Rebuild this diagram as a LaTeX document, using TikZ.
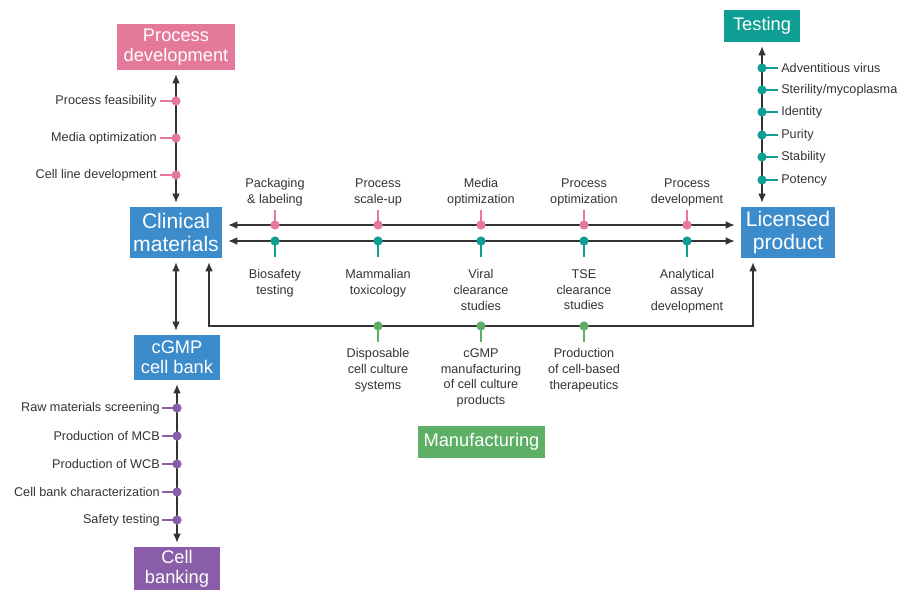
\documentclass[tikz,border=0pt]{standalone}
\usepackage{fontspec}
\setmainfont{Liberation Sans}
\usetikzlibrary{arrows.meta, positioning, calc}

\definecolor{pinkc}{HTML}{E5799A}
\definecolor{bluec}{HTML}{3C8BCB}
\definecolor{tealc}{HTML}{0F9E93}
\definecolor{purplec}{HTML}{8A5DA8}
\definecolor{greenc}{HTML}{5CAF65}
\definecolor{arrgray}{HTML}{333333}
\definecolor{txtgray}{HTML}{333333}

\tikzset{
  box/.style={text=white, align=center, inner sep=0pt, font=\fontsize{13}{14}\selectfont},
  bigbox/.style={text=white, align=center, inner sep=0pt, font=\fontsize{15}{16}\selectfont},
  lbl/.style={text=txtgray, align=center, inner sep=0pt, font=\fontsize{9}{11.3}\selectfont},
  arr/.style={draw=arrgray, line width=0.9pt, shorten <=0.1cm, shorten >=0.1cm},
  stub/.style={line width=2pt},
}

\begin{document}
\begin{tikzpicture}[x=0.025cm, y=-0.025cm, >={Latex[length=6.5pt,width=5.5pt]}]
\useasboundingbox (0,0) rectangle (916,591);

% Stage boxes
\node[box, fill=pinkc, minimum width=2.925cm, minimum height=1.15cm] (procdev) at (176,47) {Process\\development};
\node[bigbox, fill=bluec, minimum width=2.3cm, minimum height=1.275cm] (clinical) at (176,232.5) {Clinical\\materials};
\node[bigbox, fill=bluec, minimum width=2.35cm, minimum height=1.275cm] (licensed) at (788,232.5) {Licensed\\product};
\node[box, fill=bluec, minimum width=2.125cm, minimum height=1.125cm] (cellbank) at (177,357.5) {cGMP\\cell bank};
\node[box, fill=purplec, minimum width=2.125cm, minimum height=1.075cm] (banking) at (177,568.5) {Cell\\banking};
\node[box, fill=tealc, minimum width=1.9cm, minimum height=0.8cm] (testing) at (762,26) {Testing};
\node[box, fill=greenc, minimum width=3.175cm, minimum height=0.8cm] (manuf) at (481.5,442) {Manufacturing};

% Main arrows
\draw[arr, <->] (procdev.south) -- (clinical.north);
\draw[arr, <->] (clinical.south) -- (clinical.south |- cellbank.north);
\draw[arr, <->] (cellbank.south) -- (cellbank.south |- banking.north);
\draw[arr, <->] (testing.south) -- (testing.south |- licensed.north);
\draw[arr, <->, shorten <=0.15cm, shorten >=0.15cm] ([yshift=0.1875cm]clinical.east) -- ([yshift=0.1875cm]licensed.west);
\draw[arr, <->, shorten <=0.15cm, shorten >=0.15cm] ([yshift=-0.2125cm]clinical.east) -- ([yshift=-0.2125cm]licensed.west);

% Feedback loop
\coordinate (fbl) at (209,326);
\coordinate (fbr) at (753,326);
\draw[arr, <->] (clinical.south -| fbl) -- (fbl) -- (fbr) -- (licensed.south -| fbr);

% Process development steps
\foreach \y/\txt [count=\i] in {101/Process feasibility, 138/Media optimization, 175/Cell line development} {
  \draw[stub, pinkc] (176,\y) -- (160,\y);
  \fill[pinkc] (176,\y) circle (0.115cm);
  \node[lbl, anchor=east] (pd\i) at (157,\y) {\txt};
}

% Testing steps
\foreach \y/\txt [count=\i] in {68/Adventitious virus, 90/{Sterility/mycoplasma}, 112/Identity, 135/Purity, 157/Stability, 180/Potency} {
  \draw[stub, tealc] (762,\y) -- (778,\y);
  \fill[tealc] (762,\y) circle (0.115cm);
  \node[lbl, anchor=west] (ts\i) at (781,\y) {\txt};
}

% Cell banking steps
\foreach \y/\txt [count=\i] in {408/Raw materials screening, 436/Production of MCB, 464/Production of WCB, 492/Cell bank characterization, 520/Safety testing} {
  \draw[stub, purplec] (177,\y) -- (162,\y);
  \fill[purplec] (177,\y) circle (0.115cm);
  \node[lbl, anchor=east] (cb\i) at (160,\y) {\txt};
}

% Upper row (process development)
\foreach \x/\txt [count=\i] in {275/{Packaging\\\& labeling}, 378/{Process\\scale-up}, 481/{Media\\optimization}, 584/{Process\\optimization}, 687/{Process\\development}} {
  \draw[stub, pinkc] (\x,225) -- (\x,210);
  \fill[pinkc] (\x,225) circle (0.115cm);
  \node[lbl, anchor=south] (up\i) at (\x,206) {\txt};
}

% Lower row (testing)
\foreach \x/\txt [count=\i] in {275/{Biosafety\\testing}, 378/{Mammalian\\toxicology}, 481/{Viral\\clearance\\studies}, 584/{TSE\\clearance\\studies}, 687/{Analytical\\assay\\development}} {
  \draw[stub, tealc] (\x,241) -- (\x,257);
  \fill[tealc] (\x,241) circle (0.115cm);
  \node[lbl, anchor=north] (lo\i) at (\x,269) {\txt};
}

% Manufacturing row
\foreach \x/\txt [count=\i] in {378/{Disposable\\cell culture\\systems}, 481/{cGMP\\manufacturing\\of cell culture\\products}, 584/{Production\\of cell-based\\therapeutics}} {
  \draw[stub, greenc] (\x,326) -- (\x,342);
  \fill[greenc] (\x,326) circle (0.115cm);
  \node[lbl, anchor=north] (mf\i) at (\x,348) {\txt};
}

\end{tikzpicture}
\end{document}
